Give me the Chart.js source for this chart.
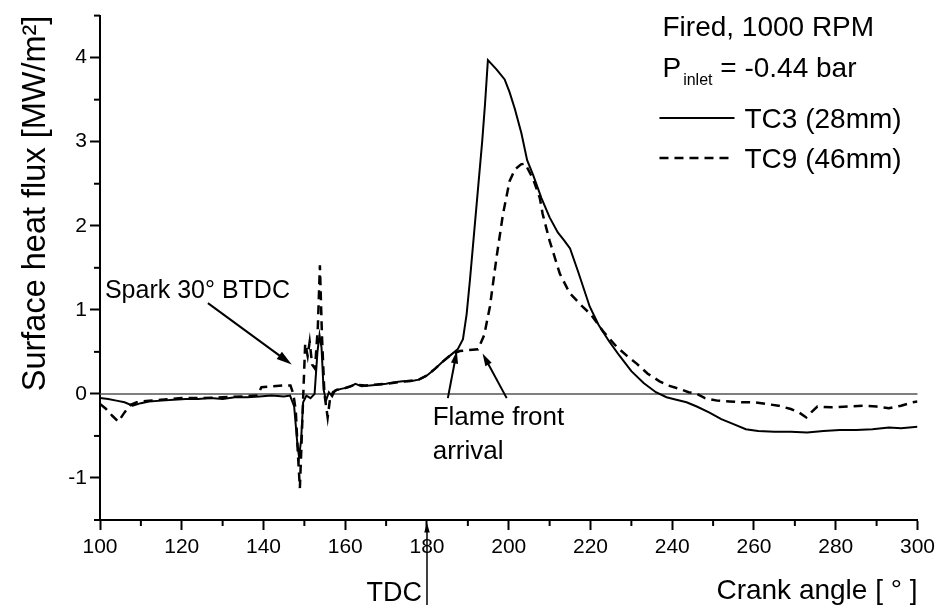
<!DOCTYPE html>
<html>
<head>
<meta charset="utf-8">
<title>Surface heat flux</title>
<script src="https://cdn.jsdelivr.net/npm/chart.js@4.4.0/dist/chart.umd.min.js"></script>
<style>
  html, body { margin: 0; padding: 0; background: #fff; }
  canvas { display: block; }
</style>
</head>
<body>
<canvas id="grafico" width="940" height="610"></canvas>
<script>
// valores: angulo de ciguenal [deg] y flujo de calor [MW/m2]
const tc3Angle = [100, 102, 104, 106, 108, 110, 112, 115, 118, 121,
    124, 127, 130, 133, 136, 139, 142, 145, 146.5, 147.5,
    148.3, 148.7, 149.2, 149.7, 150.5, 151.5, 152.5, 153.2, 153.7, 154.2,
    154.7, 155.3, 156, 156.8, 157.5, 159, 161, 162.5, 164, 166,
    168, 170, 172, 174, 176, 178, 180, 182, 184, 186,
    187.5, 188.8, 189.7, 190.5, 191.5, 192.5, 193.5, 194.2, 194.9, 197,
    199, 200.2, 201.5, 203.1, 204.5, 206, 208, 210, 212, 213.5,
    215, 217, 219.8, 222, 224.5, 227, 230, 233, 236, 238.6,
    241, 243.5, 246, 249, 252, 255, 258, 261, 265, 269,
    273, 277, 281, 285, 289, 293, 296, 300];
const tc3Flux = [-0.05, -0.06, -0.08, -0.1, -0.14, -0.11, -0.09, -0.08, -0.07, -0.06,
    -0.06, -0.05, -0.06, -0.04, -0.04, -0.03, -0.02, -0.03, -0.02, -0.15,
    -0.6, -0.75, -0.55, -0.1, -0.02, -0.05, 0.0, 0.5, 0.7, 0.55,
    0.05, -0.08, 0.02, -0.03, 0.04, 0.06, 0.08, 0.12, 0.09, 0.1,
    0.11, 0.12, 0.14, 0.15, 0.15, 0.17, 0.22, 0.3, 0.39, 0.47,
    0.53, 0.65, 0.95, 1.35, 1.9, 2.45, 3.0, 3.45, 3.97, 3.86,
    3.74, 3.59, 3.39, 3.1, 2.78, 2.6, 2.33, 2.1, 1.92, 1.83,
    1.73, 1.45, 1.04, 0.82, 0.63, 0.46, 0.27, 0.13, 0.02, -0.04,
    -0.07, -0.1, -0.15, -0.22, -0.3, -0.36, -0.42, -0.44, -0.45, -0.45,
    -0.46, -0.44, -0.43, -0.43, -0.42, -0.4, -0.41, -0.39];

const tc9Angle = [100, 101.5, 103, 104.5, 106, 107.5, 109, 112, 115, 120,
    125, 130, 135, 138.5, 139.5, 142, 145, 146.6, 147.3, 147.9,
    148.4, 148.9, 149.3, 149.7, 150.2, 150.8, 151.3, 151.9, 152.6, 153.3,
    153.8, 154.3, 154.9, 155.7, 156.3, 157, 158, 160, 162.5, 165,
    170, 175, 178, 180, 182, 184, 186, 188, 190, 192.5,
    194, 195.4, 197, 198.6, 200.2, 201.5, 203, 204, 206, 207.6,
    208.3, 210, 212.5, 214.9, 218, 220, 223, 226.4, 229, 231.3,
    234, 236.9, 239, 241.8, 244, 246, 248, 251, 254, 257,
    260, 263, 266, 269, 271, 272.8, 274, 275.5, 279, 283,
    287, 290, 293, 296, 298.8, 300];
const tc9Flux = [-0.12, -0.18, -0.26, -0.33, -0.22, -0.13, -0.1, -0.08, -0.07, -0.05,
    -0.05, -0.04, -0.03, -0.02, 0.08, 0.09, 0.1, 0.1, 0.0, -0.2,
    -0.7, -1.12, -0.6, -0.05, 0.6, 0.45, 0.62, 0.35, 0.3, 0.8,
    1.53, 0.7, 0.0, -0.28, -0.05, 0.02, 0.05, 0.07, 0.11, 0.1,
    0.12, 0.15, 0.17, 0.22, 0.3, 0.39, 0.47, 0.51, 0.52, 0.53,
    0.7, 1.04, 1.62, 2.14, 2.53, 2.67, 2.73, 2.74, 2.55, 2.33,
    2.14, 1.82, 1.43, 1.2, 1.04, 0.95, 0.75, 0.56, 0.45, 0.36,
    0.24, 0.15, 0.1, 0.06, 0.02, 0.0, -0.05, -0.08, -0.09, -0.1,
    -0.1, -0.12, -0.14, -0.18, -0.22, -0.28, -0.22, -0.15, -0.16, -0.15,
    -0.14, -0.15, -0.17, -0.14, -0.1, -0.09];

const xLabels = [100, 120, 140, 160, 180, 200, 220, 240, 260, 280, 300];
const yLabels = [-1, 0, 1, 2, 3, 4];

const serieNombres = ['TC3 (28mm)', 'TC9 (46mm)'];
const encabezado = ['Fired, 1000 RPM', 'P', 'inlet', ' = -0.44 bar'];

// anotaciones en coordenadas de datos [x1, y1, x2, y2]
const flechaSpark = [126.4, 1.08, 146.9, 0.35];
const flechasFlame = [[185.1, -0.05, 187.3, 0.51], [199.5, -0.05, 193.6, 0.48]];
const tdcAngle = 180;

const FONT = "'Liberation Sans', Arial, Helvetica, sans-serif";

function puntos(xs, ys) {
    return xs.map((x, i) => ({ x: x, y: ys[i] }));
}

function flecha(ctx, x1, y1, x2, y2, size) {
    const ang = Math.atan2(y2 - y1, x2 - x1);
    ctx.beginPath();
    ctx.moveTo(x1, y1);
    ctx.lineTo(x2 - Math.cos(ang) * size * 0.7, y2 - Math.sin(ang) * size * 0.7);
    ctx.stroke();
    ctx.beginPath();
    ctx.moveTo(x2, y2);
    ctx.lineTo(x2 - size * Math.cos(ang - 0.28), y2 - size * Math.sin(ang - 0.28));
    ctx.lineTo(x2 - size * Math.cos(ang + 0.28), y2 - size * Math.sin(ang + 0.28));
    ctx.closePath();
    ctx.fill();
}

// marcas menores (mas cortas) en los ejes
const marcasMenores = {
    id: 'marcasMenores',
    afterDraw(chart) {
        const { ctx, chartArea, scales: { x, y } } = chart;
        ctx.save();
        ctx.strokeStyle = '#000';
        ctx.lineWidth = 2;
        x.ticks.forEach(t => {
            if (xLabels.includes(t.value)) return;
            const px = x.getPixelForValue(t.value);
            ctx.beginPath();
            ctx.moveTo(px, chartArea.bottom);
            ctx.lineTo(px, chartArea.bottom + 6);
            ctx.stroke();
        });
        y.ticks.forEach(t => {
            if (yLabels.includes(t.value)) return;
            const py = y.getPixelForValue(t.value);
            ctx.beginPath();
            ctx.moveTo(chartArea.left, py);
            ctx.lineTo(chartArea.left - 6, py);
            ctx.stroke();
        });
        ctx.restore();
    }
};

const anotaciones = {
    id: 'anotaciones',
    beforeDatasetsDraw(chart) {
        const { ctx, scales: { x, y } } = chart;
        const y0 = y.getPixelForValue(0);
        ctx.save();
        ctx.strokeStyle = '#555';
        ctx.lineWidth = 1.5;
        ctx.beginPath();
        ctx.moveTo(x.getPixelForValue(100), y0);
        ctx.lineTo(x.getPixelForValue(300), y0);
        ctx.stroke();
        ctx.restore();
    },
    afterDraw(chart) {
        const { ctx, chartArea, scales: { x, y } } = chart;
        ctx.save();
        ctx.fillStyle = '#000';
        ctx.strokeStyle = '#000';
        ctx.lineWidth = 2;
        ctx.textBaseline = 'alphabetic';

        // Spark
        ctx.font = '25px ' + FONT;
        ctx.textAlign = 'left';
        ctx.fillText('Spark 30° BTDC', x.getPixelForValue(101.2), y.getPixelForValue(1.14));
        flecha(ctx, x.getPixelForValue(flechaSpark[0]), y.getPixelForValue(flechaSpark[1]),
            x.getPixelForValue(flechaSpark[2]), y.getPixelForValue(flechaSpark[3]), 16);

        // Flame front arrival
        ctx.font = '26px ' + FONT;
        ctx.fillText('Flame front', x.getPixelForValue(181.4), y.getPixelForValue(-0.37));
        ctx.fillText('arrival', x.getPixelForValue(181.4), y.getPixelForValue(-0.78));
        flechasFlame.forEach(f => {
            flecha(ctx, x.getPixelForValue(f[0]), y.getPixelForValue(f[1]),
                x.getPixelForValue(f[2]), y.getPixelForValue(f[3]), 13);
        });

        // TDC
        const xt = x.getPixelForValue(tdcAngle);
        ctx.font = '27px ' + FONT;
        ctx.textAlign = 'right';
        ctx.fillText('TDC', xt - 5, chartArea.bottom + 81);
        ctx.lineWidth = 1.5;
        flecha(ctx, xt, chartArea.bottom + 85, xt, chartArea.bottom + 3, 10);

        // leyenda
        const lx = chartArea.right - 258;
        ctx.textAlign = 'left';
        ctx.font = '28px ' + FONT;
        ctx.fillText(encabezado[0], lx + 3, 36);
        ctx.fillText(encabezado[1], lx + 3, 77);
        const wP = ctx.measureText(encabezado[1]).width;
        ctx.font = '16px ' + FONT;
        ctx.fillText(encabezado[2], lx + 5 + wP, 85);
        const wI = ctx.measureText(encabezado[2]).width;
        ctx.font = '28px ' + FONT;
        ctx.fillText(encabezado[3], lx + 5 + wP + wI, 77);

        chart.data.datasets.forEach((ds, i) => {
            const yy = 118 + i * 40;
            ctx.save();
            ctx.lineWidth = ds.borderWidth;
            ctx.setLineDash(ds.borderDash || []);
            ctx.beginPath();
            ctx.moveTo(lx, yy);
            ctx.lineTo(lx + 75, yy);
            ctx.stroke();
            ctx.restore();
            ctx.fillText(ds.label, lx + 85, yy + 10);
        });
        ctx.restore();
    }
};

const ctx = document.querySelector('#grafico').getContext('2d');
const grafica = new Chart(ctx, {
    type: 'line',
    data: {
        datasets: [{
            label: serieNombres[0],
            data: puntos(tc3Angle, tc3Flux),
            borderColor: '#000',
            borderWidth: 2,
            pointRadius: 0,
            tension: 0
        }, {
            label: serieNombres[1],
            data: puntos(tc9Angle, tc9Flux),
            borderColor: '#000',
            borderWidth: 2.5,
            borderDash: [9, 6],
            pointRadius: 0,
            tension: 0
        }]
    },
    options: {
        responsive: false,
        animation: false,
        layout: { padding: { top: 13, right: 22, left: 0, bottom: 0 } },
        plugins: {
            legend: { display: false },
            tooltip: { enabled: false }
        },
        scales: {
            x: {
                type: 'linear',
                min: 100,
                max: 300,
                afterFit: s => { s.height = 90; },
                border: { display: true, color: '#000', width: 2 },
                grid: {
                    drawOnChartArea: false,
                    tickLength: 10,
                    tickWidth: 2,
                    tickColor: c => xLabels.includes(c.tick.value) ? '#000' : 'rgba(0,0,0,0)'
                },
                ticks: {
                    stepSize: 10,
                    autoSkip: false,
                    maxRotation: 0,
                    padding: 5,
                    color: '#000',
                    font: { family: FONT, size: 21 },
                    callback: v => xLabels.includes(v) ? String(v) : ''
                },
                title: {
                    display: true,
                    text: 'Crank angle [ ° ]',
                    align: 'end',
                    color: '#000',
                    font: { family: FONT, size: 28 },
                    padding: { top: 0, bottom: 2 }
                }
            },
            y: {
                min: -1.5,
                max: 4.5,
                afterFit: s => { s.width = 100; },
                border: { display: true, color: '#000', width: 2 },
                grid: {
                    drawOnChartArea: false,
                    tickLength: 10,
                    tickWidth: 2,
                    tickColor: c => yLabels.includes(c.tick.value) ? '#000' : 'rgba(0,0,0,0)'
                },
                ticks: {
                    stepSize: 0.5,
                    autoSkip: false,
                    padding: 3,
                    color: '#000',
                    font: { family: FONT, size: 21 },
                    callback: v => yLabels.includes(v) ? String(v) : ''
                },
                title: {
                    display: true,
                    text: 'Surface heat flux [MW/m²]',
                    align: 'end',
                    color: '#000',
                    font: { family: FONT, size: 32.5 },
                    padding: { top: 17, bottom: 0 }
                }
            }
        }
    },
    plugins: [marcasMenores, anotaciones]
});
</script>
</body>
</html>
